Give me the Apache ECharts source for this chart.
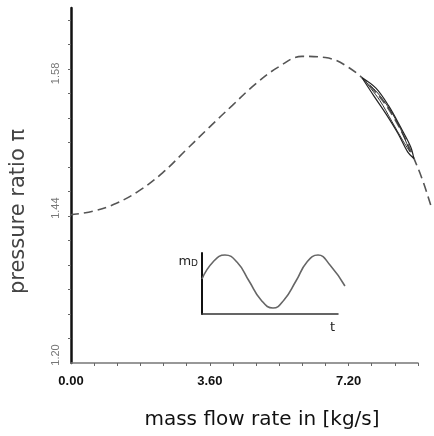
<!DOCTYPE html>
<html><head><meta charset="utf-8">
<script src="https://cdn.jsdelivr.net/npm/echarts@6/dist/echarts.min.js"></script>
<style>html,body{margin:0;padding:0;background:#fff}#c{width:434px;height:436px}</style>
</head><body><div id="c"></div>
<script>
// Compressor characteristic (dashed)
const flowRate      = [0, 0.6, 1.2, 1.8, 2.4, 3.0, 3.6, 4.2, 4.8, 5.4, 6.0, 6.6, 7.2, 7.8, 8.4, 9.0, 9.35];
const pressureRatio = [1.442, 1.448, 1.461, 1.482, 1.511, 1.548, 1.585, 1.621, 1.656, 1.684, 1.701, 1.699, 1.683, 1.650, 1.598, 1.518, 1.453];
// Operating-point loops (outer and inner), closed
const loopOuterFlow = [7.55, 7.91, 8.24, 8.55, 8.81, 8.89, 8.73, 8.48, 8.17, 7.86, 7.55];
const loopOuterPi   = [1.666, 1.649, 1.620, 1.585, 1.553, 1.534, 1.545, 1.575, 1.607, 1.636, 1.666];
const loopInnerFlow = [7.65, 7.93, 8.27, 8.55, 8.79, 8.60, 8.32, 8.01, 7.65];
const loopInnerPi   = [1.659, 1.643, 1.614, 1.582, 1.545, 1.564, 1.595, 1.629, 1.659];
// Inset: mass flow m_D over time t
const insetT = [0, 0.081, 0.169, 0.257, 0.346, 0.434, 0.522, 0.603, 0.691, 0.772, 0.853, 0.941, 1.051];
const insetM = [0.574, 0.852, 0.967, 0.852, 0.541, 0.230, 0.098, 0.230, 0.541, 0.852, 0.967, 0.803, 0.459];
// Axis ticks and labels
const xTickValues  = [0.6, 1.2, 1.8, 2.4, 3.0, 3.6, 4.2, 4.8, 5.4, 6.0, 6.6, 7.2, 7.8, 8.4, 9.0];
const xLabelValues = [0, 3.6, 7.2];
const xLabelTexts  = ['0.00', '3.60', '7.20'];
const yTickValues  = [1.24, 1.28, 1.32, 1.36, 1.40, 1.44, 1.48, 1.52, 1.56, 1.60, 1.64, 1.68, 1.72, 1.76];
// label positions as printed in the source figure
const yLabelValues = [1.20, 1.44, 1.66];
const yLabelTexts  = ['1.20', '1.44', '1.58'];

const zip = (a, b) => a.map((v, i) => [v, b[i]]);
const hidden = {axisLine: {show: false}, axisTick: {show: false}, axisLabel: {show: false}, splitLine: {show: false}};

const chart = echarts.init(document.getElementById('c'), null, {renderer: 'canvas'});
chart.setOption({
  animation: false,
  backgroundColor: '#fff',
  grid: [
    {left: 70, top: 8, right: 16, bottom: 73},          // visible main axes (0 .. 9.0)
    {left: 202, top: 253, width: 136, height: 61},      // visible inset axes
    {left: 70, top: 8, width: 362, bottom: 73},         // same scale as grid 0, lets the curve run past 9.0
    {left: 202, top: 253, width: 143, height: 61}       // same scale as grid 1, lets the wave run past the axis end
  ],
  xAxis: [
    {
      type: 'value', gridIndex: 0, min: 0, max: 9,
      axisLine: {show: true, onZero: false, lineStyle: {color: '#777', width: 1.5}},
      axisTick: {show: true, customValues: xTickValues, length: 3, lineStyle: {color: '#666', width: 1}},
      axisLabel: {
        customValues: xLabelValues, margin: 12,
        formatter: v => xLabelTexts[xLabelValues.findIndex(x => Math.abs(x - v) < 1e-6)] || '',
        fontFamily: 'Liberation Sans', fontSize: 13, fontWeight: 'bold', color: '#111'
      },
      splitLine: {show: false},
      name: 'mass flow rate in [kg/s]', nameLocation: 'middle', nameGap: 47,
      nameTextStyle: {fontFamily: 'DejaVu Sans', fontSize: 20, color: '#111', padding: [0, 0, 0, 35]}
    },
    {
      type: 'value', gridIndex: 1, min: 0, max: 1,
      axisLine: {show: true, onZero: false, lineStyle: {color: '#333', width: 1.5}},
      axisTick: {show: false}, axisLabel: {show: false}, splitLine: {show: false},
      name: 't', nameLocation: 'end', nameGap: -8,
      nameTextStyle: {fontFamily: 'DejaVu Sans', fontSize: 13, color: '#222', verticalAlign: 'top', padding: [7, 0, 0, 0]}
    },
    Object.assign({type: 'value', gridIndex: 2, min: 0, max: 9.36}, hidden),
    Object.assign({type: 'value', gridIndex: 3, min: 0, max: 1.0515}, hidden)
  ],
  yAxis: [
    {
      type: 'value', gridIndex: 0, min: 1.20, max: 1.78,
      axisLine: {show: true, onZero: false, lineStyle: {color: '#111', width: 2.5}},
      axisTick: {show: true, customValues: yTickValues, length: 3, lineStyle: {color: '#666', width: 1}},
      axisLabel: {
        customValues: yLabelValues, rotate: 90, margin: 10,
        formatter: v => yLabelTexts[yLabelValues.findIndex(y => Math.abs(y - v) < 1e-6)] || '',
        fontFamily: 'Liberation Sans', fontSize: 11, color: '#777', padding: [0, 0, 0, 16]
      },
      splitLine: {show: false},
      name: 'pressure ratio π', nameLocation: 'middle', nameGap: 42, nameRotate: 90,
      nameTextStyle: {fontFamily: 'DejaVu Sans', fontSize: 21, color: '#444', padding: [0, 52, 0, 0]}
    },
    {
      type: 'value', gridIndex: 1, min: 0, max: 1,
      axisLine: {show: true, onZero: false, lineStyle: {color: '#111', width: 2}},
      axisTick: {show: false}, axisLabel: {show: false}, splitLine: {show: false},
      name: '{m|m}{d|D}', nameLocation: 'end', nameGap: -2,
      nameTextStyle: {
        align: 'right', verticalAlign: 'top', padding: [0, 4, 0, 0],
        rich: {
          m: {fontFamily: 'DejaVu Sans', fontSize: 13, color: '#222'},
          d: {fontFamily: 'DejaVu Sans', fontSize: 9, color: '#222', verticalAlign: 'bottom', padding: [4, 0, 0, 0]}
        }
      }
    },
    Object.assign({type: 'value', gridIndex: 2, min: 1.20, max: 1.78}, hidden),
    Object.assign({type: 'value', gridIndex: 3, min: 0, max: 1}, hidden)
  ],
  series: [
    {
      type: 'line', xAxisIndex: 2, yAxisIndex: 2, data: zip(flowRate, pressureRatio),
      smooth: 0.4, showSymbol: false, clip: false,
      lineStyle: {color: '#555', width: 1.6, type: [9, 5]}
    },
    {
      type: 'line', xAxisIndex: 2, yAxisIndex: 2, data: zip(loopOuterFlow, loopOuterPi),
      smooth: 0.35, showSymbol: false, clip: false,
      lineStyle: {color: '#222', width: 1.2}
    },
    {
      type: 'line', xAxisIndex: 2, yAxisIndex: 2, data: zip(loopInnerFlow, loopInnerPi),
      smooth: 0.35, showSymbol: false, clip: false,
      lineStyle: {color: '#333', width: 1}
    },
    {
      type: 'line', xAxisIndex: 3, yAxisIndex: 3, data: zip(insetT, insetM),
      smooth: true, showSymbol: false, clip: false,
      lineStyle: {color: '#666', width: 1.6}
    }
  ]
});
</script></body></html>
